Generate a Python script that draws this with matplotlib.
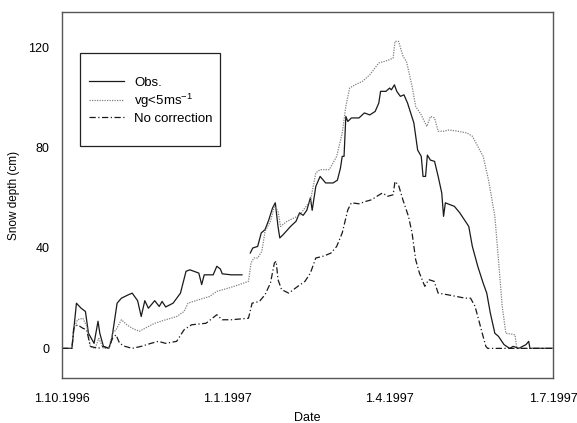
import matplotlib
matplotlib.use('Agg')
import matplotlib.pyplot as plt
from matplotlib.patches import Rectangle
import numpy as np

plt.rcParams['font.family'] = ['Liberation Sans', 'DejaVu Sans']

# days since 1.10.1996
obs_day = [0, 5.5, 8, 10.6, 13, 14.7, 17.8, 20, 21, 23, 26, 27.6, 30.6, 33, 37, 39, 42, 44, 46, 48,
           51.5, 54, 55.6, 57.6, 61.7, 65.8, 68.9, 71, 76, 77.6, 79, 84, 86, 88, 89, 94, 100, 102,
           104.6, 106, 108.7, 110.7, 112.8, 114.8, 117, 118.5, 120, 121, 123, 127, 130, 132, 134,
           136, 138, 139, 141, 143.4, 146.5, 150.6, 153, 154.7, 155.7, 156.7, 157.7, 158.8, 160.8,
           165, 168, 171, 174, 176, 177, 180, 182, 183, 184.7, 186, 188, 190, 192, 195.5, 197.6,
           199.6, 200.6, 202, 203, 204.7, 207, 209, 211, 212, 213, 215, 218, 221, 223.5, 226, 228,
           231, 234, 236, 238, 240.5, 242.5, 245.6, 248.7, 250.7, 253.8, 257.8, 259.3, 260, 273]
obs_val = [0, 0, 18, 16, 14.7, 6, 2, 10.8, 6, 0.8, 0, 3.5, 18, 20, 21.4, 22, 19, 12.7, 19, 16,
           19, 16.7, 18.7, 16.5, 18, 22, 30.7, 31.3, 30, 25.4, 29.3, 29.3, 32.7, 31.6, 29.7, 29.3, 29.3, np.nan,
           38, 40, 40.6, 46, 47.3, 51, 56, 58, 48.6, 44, 45.4, 48.6, 50.6, 54, 53,
           55, 60, 55, 64.5, 68.5, 65.9, 65.9, 67, 71.8, 76.5, 76.5, 92.4, 90.4, 91.8,
           91.8, 93.8, 93, 94.4, 97.7, 102.4, 102.4, 103.7, 103, 105, 102.4, 100.4, 101, 97.7, 89.8, 79,
           76.5, 68.5, 68.5, 77, 75, 74.5, 68.5, 61.9, 52.6, 58, 57.4, 56.6, 54, 51.3, 48.6, 40.6,
           32.7, 26, 22, 14, 6, 4.8, 1.5, 0, 0.8, 0, 1.5, 2.8, 0, 0]

vg_day = [0, 5.5, 6.5, 8.6, 11.6, 13.7, 15.7, 18.4, 20.4, 23, 26, 28, 30, 33, 36, 39, 43, 46, 51.5,
          57.6, 63.7, 67.8, 70, 76, 82, 86, 92.4, 98.5, 103.6, 105, 106.6, 108.7, 111, 112.8, 115.8,
          118, 120, 121.4, 125, 129, 132, 135, 138, 141, 143.4, 148.5, 152.6, 155.7, 157.7, 159.8,
          162.8, 167, 171, 176, 179, 182, 184, 185, 187, 189.4, 191.4, 194.5, 196.5, 199.6, 202.7,
          204.7, 207, 209, 212, 215, 220, 225, 228, 231, 234, 237, 240.5, 242.5, 244.6, 246.6,
          249.6, 251.7, 252.7, 273]
vg_val = [0, 0, 8, 11.4, 12, 8.8, 0.8, 0, 4, 0, 0, 6, 7.4, 11.4, 9.4, 8, 6.8, 8, 10,
          11.4, 12.7, 14.7, 18, 19.4, 20.7, 22.7, 24, 25.4, 26.7, 34, 36, 36, 38.6, 46.6, 50.6,
          56.6, 54.7, 48.6, 50.6, 52, 53, 56, 58.7, 69.9, 71.2, 71.2, 76.5, 85.8, 96.4, 103.7,
          105, 106.4, 109, 113.7, 114.3, 115, 115.7, 122.3, 122.3, 116.5, 114.3, 104.4, 96.4, 93, 88.4,
          92.4, 91.8, 86.5, 86.5, 87, 86.5, 85.8, 84.5, 80.5, 76.5, 67, 52.6, 35.3, 16.7, 6,
          5.7, 5.4, 0, 0]

nc_day = [0, 5.5, 6.5, 8.6, 11.6, 13.7, 15.7, 20, 23, 26, 28, 30, 32, 35, 39, 44, 49.4, 53.5, 57.6,
          63.7, 67.8, 72, 80, 86, 89, 94, 103.6, 105.6, 109.7, 112.8, 115.8, 118, 119, 120, 122,
          126, 131, 135, 138, 141, 145.5, 149.5, 152.6, 155.7, 158.8, 160.8, 165, 169, 172, 175,
          178, 181, 184, 185, 187, 189.4, 192.5, 194.5, 196.5, 198.6, 201.6, 203.7, 206.8, 209,
          214, 219, 224, 227, 229.5, 231.5, 233.5, 235.5, 236.5, 273]
nc_val = [0, 0, 8, 9.4, 8, 7.4, 0.8, 0, 0.8, 0, 4, 5.4, 2, 0.8, 0, 0.8, 2, 2.8, 2,
          2.8, 7.4, 9.4, 10, 13.4, 11.4, 11.4, 12, 18, 18.7, 21.4, 26, 34, 34.7, 27.4, 23.4,
          22, 24.7, 26.7, 30, 36, 36.8, 38, 40.6, 46, 55.2, 58, 57.6, 58.6, 59.2, 60.6,
          61.9, 60.6, 61.2, 66.5, 65, 59.2, 52.6, 46, 35.3, 30, 24.7, 27.4, 26.7, 22,
          21.4, 20.7, 20, 20, 16.7, 11.4, 6, 0.8, 0, 0]

tick_days = [0, 92, 182, 273]
tick_labels = ['1.10.1996', '1.1.1997', '1.4.1997', '1.7.1997']

fig = plt.figure(figsize=(5.77, 4.23), dpi=100)
ax = fig.add_axes([0.1075, 0.1064, 0.8515, 0.8652])

l1, = ax.plot(obs_day, obs_val, color='#1a1a1a', lw=0.9, ls='-')
l2, = ax.plot(vg_day, vg_val, color='#808080', lw=0.9, ls=(0, (1, 1)))
l3, = ax.plot(nc_day, nc_val, color='#1a1a1a', lw=0.9, ls=(0, (5, 2, 1, 2)))

ax.set_xlim(0, 273)
ax.set_ylim(-11.8, 134)
ax.set_xticks(tick_days)
ax.set_xticklabels(tick_labels)
ax.set_yticks([0, 40, 80, 120])
ax.tick_params(axis='both', length=0, labelsize=9)
ax.tick_params(axis='x', pad=11)
ax.tick_params(axis='y', pad=9)
for s in ax.spines.values():
    s.set_color('#555555')
    s.set_linewidth(1)

ax.set_xlabel('Date', fontsize=9, labelpad=5)
ax.set_ylabel('Snow depth (cm)', fontsize=8.5, labelpad=6)

# legend box drawn separately (tall padding above/below entries)
ax.add_patch(Rectangle((0.0366, 0.634), 0.2845, 0.254, transform=ax.transAxes,
                       fill=False, edgecolor='#222222', lw=0.9, zorder=5))
ax.legend([l1, l2, l3], ['Obs.', r'vg<5ms$^{\mathregular{-1}}$', 'No correction'],
          loc='center', bbox_to_anchor=(0.181, 0.758), frameon=False, fontsize=9.5,
          handlelength=2.6, handletextpad=0.8, labelspacing=0.2, borderpad=0.2)

fig.savefig('out.png', dpi=100)
